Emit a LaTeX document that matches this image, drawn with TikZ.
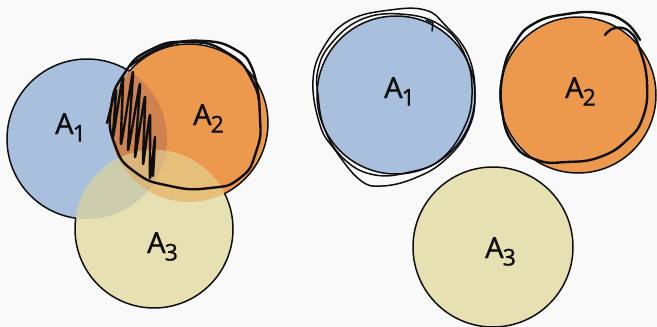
\documentclass[tikz,border=0pt]{standalone}
\usepackage{fontspec}
\setmainfont{Open Sans}
\newfontfamily\lblfont{Open Sans}[RawFeature={embolden=1.3}]
\definecolor{bgc}{RGB}{249,249,249}
\definecolor{cA}{RGB}{168,191,221}
\definecolor{cB}{RGB}{236,153,77}
\definecolor{cC}{RGB}{230,224,178}
\definecolor{cAB}{RGB}{206,130,80}
\definecolor{cAC}{RGB}{204,205,172}
\definecolor{cBC}{RGB}{230,191,122}
\definecolor{cABC}{RGB}{218,182,124}
\definecolor{ink}{RGB}{15,15,15}
\newcommand\Asub[1]{A\kern-0.8pt\raisebox{-7.5pt}{\fontsize{23}{24}\selectfont #1}}
\begin{document}
\begin{tikzpicture}[x=1pt,y=-1pt,
  lbl/.style={anchor=base west, inner sep=0pt, text=ink, font=\lblfont\fontsize{29}{30}\selectfont},
  outline/.style={draw=ink, line width=1.5pt},
  sketch/.style={draw=ink, line width=2.4pt, line cap=round, line join=round},
  thinsketch/.style={draw=ink, line width=1.5pt, line cap=round, line join=round},
]
\useasboundingbox (0,0) rectangle (657,327);
\fill[bgc] (0,0) rectangle (657,327);
% ---------- left: overlapping sets ----------
\coordinate (c1) at (87,139);
\coordinate (c2) at (189,123);
\coordinate (c3) at (154,229);
\fill[cA] (c1) circle (80);
\fill[cB] (c2) circle (79);
\fill[cC] (c3) circle (79);
\begin{scope}
  \clip (c2) circle (79);
  \fill[cBC] (c3) circle (79);
\end{scope}
\begin{scope}
  \clip (c1) circle (80);
  \fill[cAB] (c2) circle (79);
  \fill[cAC] (c3) circle (79);
  \clip (c2) circle (79);
  \fill[cABC] (c3) circle (79);
\end{scope}
% outer outlines
\begin{scope}[even odd rule]
  \clip (-20,-20) rectangle (700,400) (c2) circle (79);
  \clip (-20,-20) rectangle (700,400) (c3) circle (79);
  \draw[outline] (c1) circle (80);
\end{scope}
\begin{scope}[even odd rule]
  \clip (-20,-20) rectangle (700,400) (c1) circle (80);
  \clip (-20,-20) rectangle (700,400) (c3) circle (79);
  \draw[outline] (c2) circle (79);
\end{scope}
\begin{scope}[even odd rule]
  \clip (-20,-20) rectangle (700,400) (c1) circle (80);
  \clip (-20,-20) rectangle (700,400) (c2) circle (79);
  \draw[outline] (c3) circle (79);
\end{scope}
% sketchy outline of A2
\draw[sketch] plot[smooth cycle, tension=0.9] coordinates {
  (260,118) (252,80) (226,52) (188,42) (150,50) (124,74) (111,108)
  (115,145) (135,172) (170,186) (210,188) (240,178) (256,152)};
\draw[sketch] plot[smooth, tension=0.8] coordinates {
  (130,66) (165,46) (205,41) (236,50) (252,68) (259,100)};
% hatching of A1 and A2
\draw[sketch] plot[smooth, tension=0.35] coordinates {
  (107,123) (116,90) (113,137) (123,77) (121,144) (133,72) (128,150)
  (140,84) (135,157) (145,97) (143,164) (150,115) (150,178) (155,137) (153,176)};
\node[lbl] (l1) at (55,134) {\Asub{1}};
\node[lbl] (l2) at (193,125) {\Asub{2}};
\node[lbl] (l3) at (147,253) {\Asub{3}};
% ---------- right: separated sets ----------
\coordinate (d1) at (396,95);
\coordinate (d2) at (578,95);
\coordinate (d3) at (493,247);
\fill[cA] (d1) circle (79);
\fill[cB] (d2) circle (78);
\fill[cC] (d3) circle (80);
\draw[outline] (d3) circle (80);
\draw[outline] (d2) circle (78);
\draw[thinsketch] (d1) circle (79);
\draw[thinsketch] plot[smooth cycle, tension=0.7] coordinates {
  (313,80) (320,125) (335,150) (360,180) (382,186) (415,178) (445,160)
  (468,130) (475,95) (468,55) (445,25) (425,10) (390,10) (350,20) (325,45)};
\draw[thinsketch] plot[smooth cycle, tension=0.7] coordinates {
  (318,95) (325,130) (345,160) (375,175) (410,172) (440,160) (463,130)
  (472,95) (465,55) (440,25) (400,14) (360,20) (330,45) (318,70)};
\draw[thinsketch] (426,20) -- (433,23) -- (432,31);
\draw[sketch] plot[smooth, tension=0.8] coordinates {
  (605,35) (615,28) (630,32) (640,50) (647,83) (643,117) (627,140)
  (600,157) (567,162) (537,160) (513,143) (502,110) (503,73) (515,43)
  (535,23) (567,14) (600,13) (625,22) (640,40)};
\node[lbl] (r1) at (384,98) {\Asub{1}};
\node[lbl] (r2) at (565,98) {\Asub{2}};
\node[lbl] (r3) at (485,258) {\Asub{3}};
\end{tikzpicture}
\end{document}
